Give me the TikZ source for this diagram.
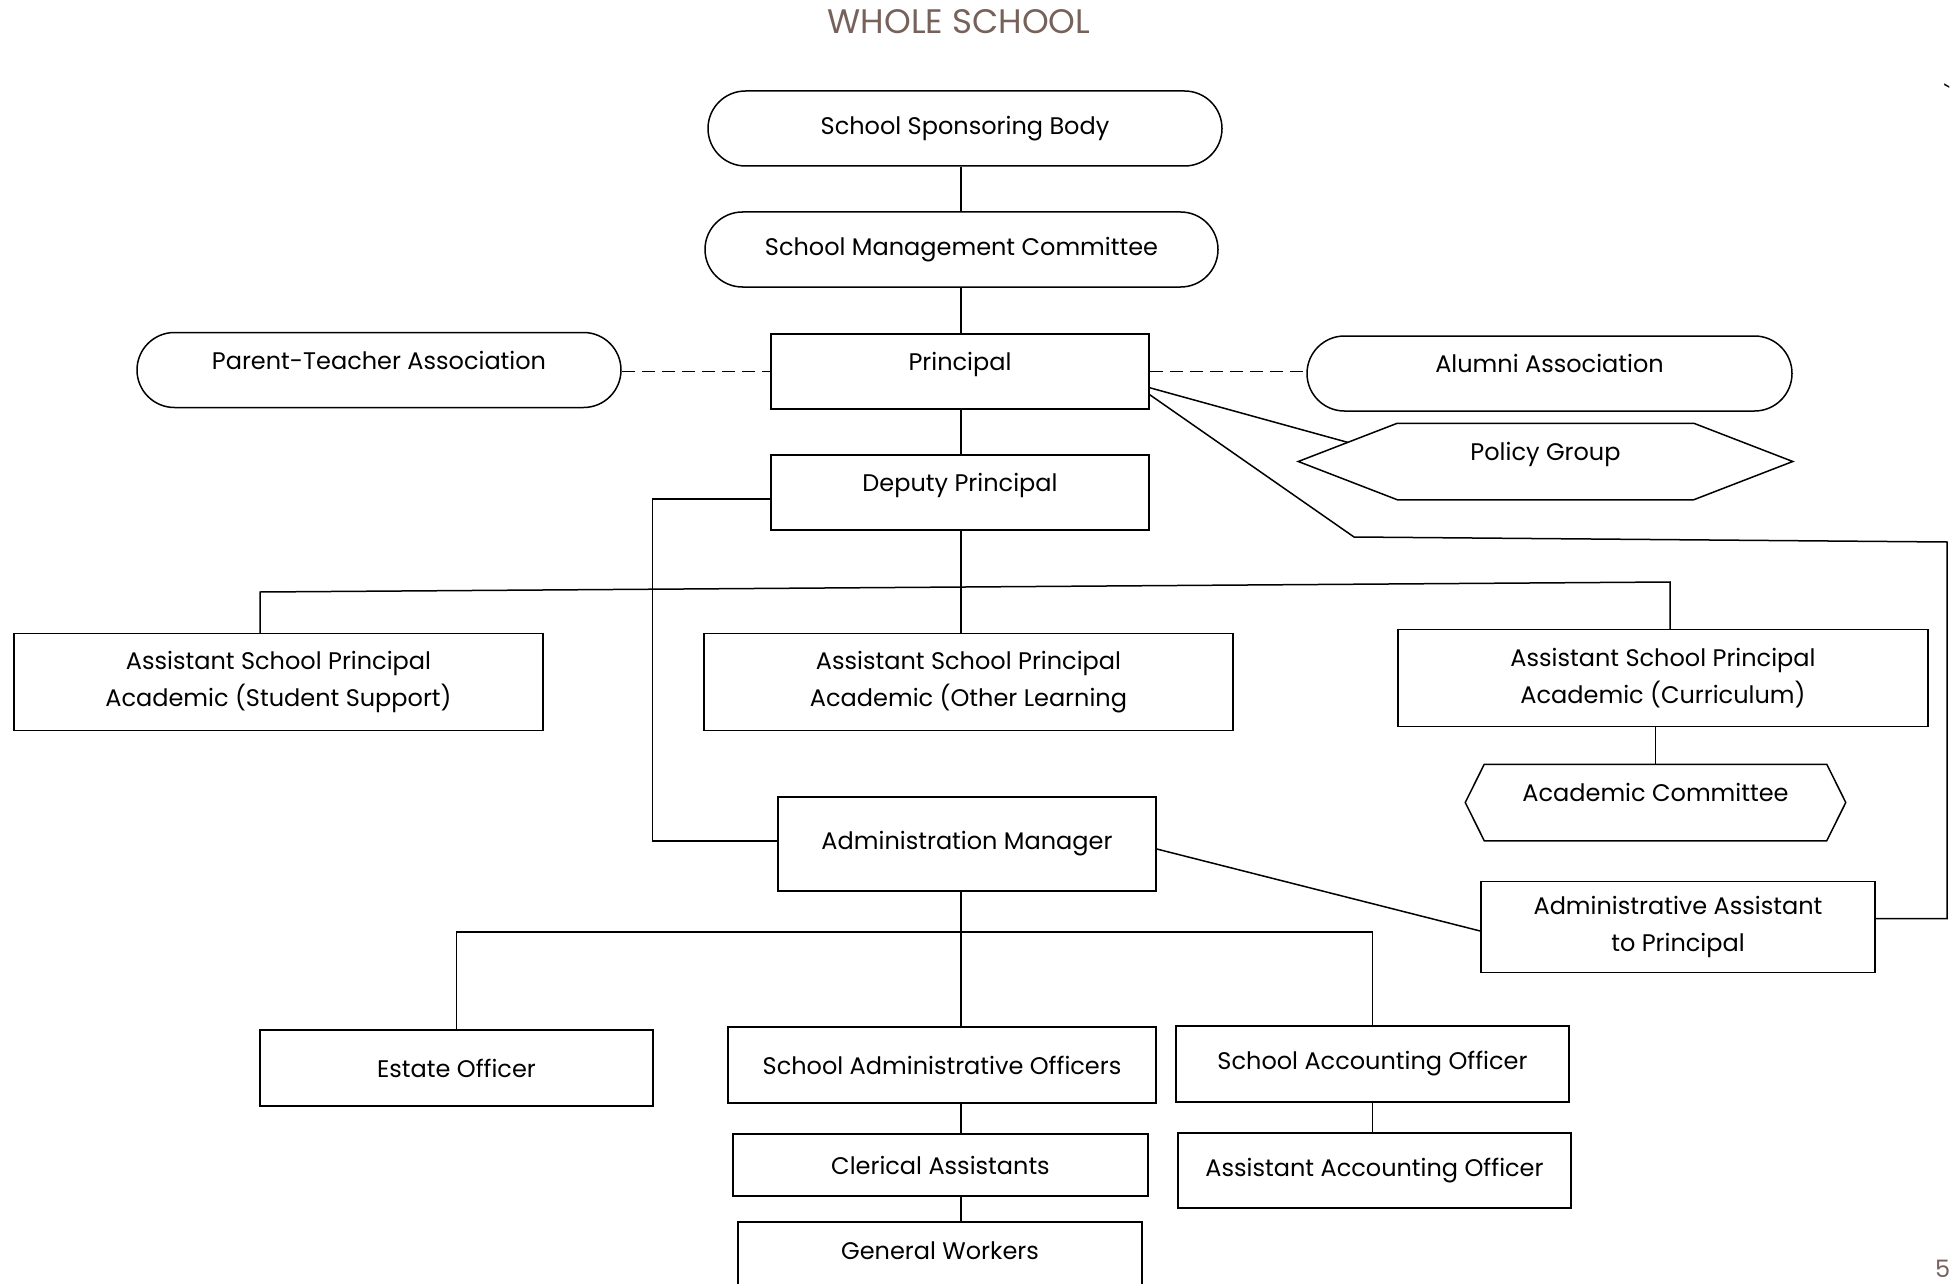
\documentclass[tikz,border=0pt]{standalone}
\usepackage{fontspec}
\setmainfont{Poppins}
\usetikzlibrary{calc,shapes.misc}
\definecolor{titlebrown}{RGB}{118,98,90}
% outline of a flat hexagon round a node, #2 = depth of the points
\newcommand{\hexoutline}[2]{\draw (#1.west)
-- ($(#1.north west)+(#2,0)$) -- ($(#1.north east)-(#2,0)$) -- (#1.east)
-- ($(#1.south east)-(#2,0)$) -- ($(#1.south west)+(#2,0)$) -- cycle}

\begin{document}
\begin{tikzpicture}[
  x=1pt,y=-1pt,
  line width=1.5pt,
  every node/.style={font=\fontsize{24}{37}\selectfont},
  post/.style={rectangle,draw,align=center,inner sep=0pt},
  body/.style={rounded rectangle,draw,inner sep=0pt,minimum height=75pt},
  hexa/.style={inner sep=0pt,minimum height=75pt},
  raised/.style={text height=10pt,text depth=12pt},
  link/.style={dash pattern=on 13pt off 7pt}
  ]
  \useasboundingbox (0,0) rectangle (1957,1284);
  \node[font=\fontsize{34}{40}\selectfont,text=titlebrown] (title) at (959,22) {WHOLE SCHOOL};

  \node[body,minimum width=514pt] (SSB) at (965,128.5) {School Sponsoring Body};
  \node[body,minimum width=513pt] (SMC) at (961.5,249.5) {School Management Committee};
  \node[post,raised,minimum width=378pt,minimum height=75pt] (PRI) at (960,371.5) {Principal};
  \node[body,raised,minimum width=484pt] (PTA) at (379,370) {Parent-Teacher Association};
  \node[body,raised,minimum width=485pt] (ALU) at (1549.5,373.5) {Alumni Association};
  \node[hexa,raised,minimum width=493pt] (PG) at (1545.5,461.5) {Policy Group};
  \node[post,raised,minimum width=378pt,minimum height=75pt] (DEP) at (960,492.5) {Deputy Principal};

  \node[post,minimum width=529pt,minimum height=97pt] (ASP1) at (278.5,682) {Assistant School Principal\\Academic (Student Support)};
  \node[post,minimum width=529pt,minimum height=97pt] (ASP2) at (968.5,682) {Assistant School Principal\\Academic (Other Learning};
  \node[post,minimum width=530pt,minimum height=97pt] (ASP3) at (1663,678) {Assistant School Principal\\Academic (Curriculum)};
  \node[hexa,raised,minimum width=379pt] (AC) at (1655.5,802.5) {Academic Committee};

  \node[post,minimum width=378pt,minimum height=94pt] (AM) at (967,844) {Administration Manager};
  \node[post,minimum width=394pt,minimum height=91pt] (AA) at (1678,927) {Administrative Assistant\\to Principal};
  \node[post,minimum width=393pt,minimum height=76pt] (EO) at (456.5,1068) {Estate Officer};
  \node[post,minimum width=428pt,minimum height=76pt] (SADO) at (942,1065) {School Administrative Officers};
  \node[post,minimum width=393pt,minimum height=76pt] (SACO) at (1372.5,1064) {School Accounting Officer};
  \node[post,minimum width=415pt,minimum height=62pt] (CA) at (940.5,1165) {Clerical Assistants};
  \node[post,raised,minimum width=404pt,minimum height=76pt] (GW) at (940,1260) {General Workers};
  \node[post,minimum width=393pt,minimum height=75pt] (AAO) at (1374.5,1170.5) {Assistant Accounting Officer};

  \node (tick) at (1947,93) {\textasciigrave};
  \node[text=titlebrown,anchor=south east,inner sep=0pt] (pageno) at (1951,1278) {5};

  \hexoutline{PG}{99};
  \hexoutline{AC}{19};

  \coordinate (spine) at (961,0);
  \draw (spine|-SSB.south) edge (spine|-SMC.north)
        (spine|-SMC.south) edge (spine|-PRI.north)
        (spine|-PRI.south) edge (spine|-DEP.north)
        (spine|-DEP.south) edge (spine|-ASP2.north)
        (spine|-AM.south) edge (spine|-SADO.north)
        (spine|-SADO.south) edge (spine|-CA.north)
        (spine|-CA.south) edge (spine|-GW.north);
  \draw[link] (PTA.east|-PRI.west) -- (PRI.west);
  \draw[link] (PRI.east) -- (PRI.east-|ALU.west);

  \draw ($(PRI.south east)+(0,-22)$) -- ($(PG.west)!0.5!(PG.north west)+(49.5,0)$);
  \coordinate (turnA) at (1354,537);
  \coordinate (turnB) at (1947,542);
  \draw ($(PRI.south east)+(0,-15)$) -- (turnA) -- (turnB)
        -- ($(turnB|-AA.east)+(0,-8.5)$) -- ($(AA.east)+(0,-8.5)$);

  \draw ($(DEP.west)+(0,6.5)$) -- ++(-118,0) |- ($(AM.west)+(0,-3)$);
  \coordinate (barL) at (260,592);
  \coordinate (barR) at (1670,582);
  \draw (barL|-ASP1.north) -- (barL) -- (barR) -- (barR|-ASP3.north);
  \draw (AC.north) -- (AC.north|-ASP3.south);

  \draw ($(AM.east)+(0,5)$) -- ($(AA.west)+(0,4)$);
  \coordinate (admbar) at (0,932);
  \draw (EO.north) |- (admbar-|SACO.north) -- (SACO.north);
  \draw (SACO.south) -- (SACO.south|-AAO.north);
\end{tikzpicture}
\end{document}
